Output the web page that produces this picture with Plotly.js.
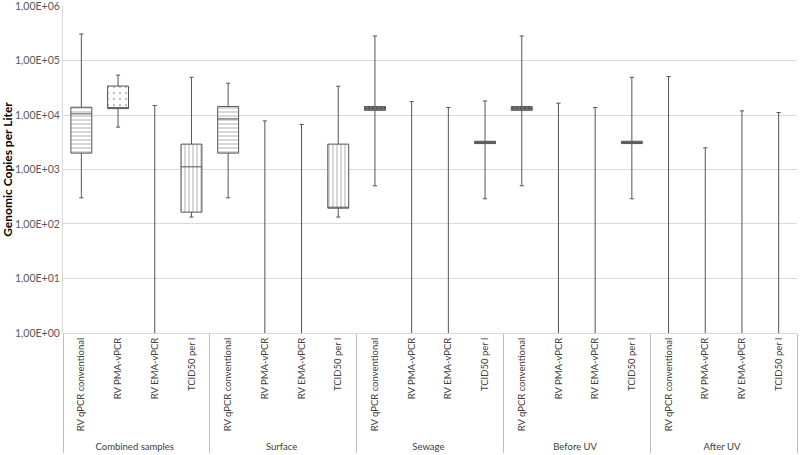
<!DOCTYPE html>
<html>
<head>
<meta charset="utf-8">
<script src="https://cdn.plot.ly/plotly-3.0.1.min.js"></script>
<style>html,body{margin:0;padding:0;background:#fff;}#chart{width:800px;height:455px;}</style>
</head>
<body>
<div id="chart"></div>
<script>
const groups = ["Combined samples","Surface","Sewage","Before UV","After UV"];
const methods = ["RV qPCR conventional","RV PMA-vPCR","RV EMA-vPCR","TCID50 per l"];

// per-category statistics (20 categories, group-major order); 0.1 = below axis (no value)
const upperFence = [307000, 54000, 14900, 49300,   38300, 7800, 6700, 33700,   282000, 17600, 13700, 18100,   282000, 16500, 13700, 49300,   50700, 2500, 11900, 11100];
const q3Values   = [13900, 34000, 0.1, 2920,       14300, 0.1, 0.1, 2920,      14300, 0.1, 0.1, 3300,       14300, 0.1, 0.1, 3300,       0.1, 0.1, 0.1, 0.1];
const medians    = [10500, 13100, 0.1, 1120,       8500, 0.1, 0.1, 195,        13000, 0.1, 0.1, 3150,       13000, 0.1, 0.1, 3150,       0.1, 0.1, 0.1, 0.1];
const q1Values   = [2000, 13100, 0.1, 165,         2000, 0.1, 0.1, 195,        12200, 0.1, 0.1, 2990,       12200, 0.1, 0.1, 2990,       0.1, 0.1, 0.1, 0.1];
const lowerFence = [302, 6000, 0.1, 134,           302, 0.1, 0.1, 134,         502, 0.1, 0.1, 290,          502, 0.1, 0.1, 290,          0.1, 0.1, 0.1, 0.1];

const yTickVals = [1, 10, 100, 1000, 10000, 100000, 1000000];
const yTickText = ["1,00E+00","1,00E+01","1,00E+02","1,00E+03","1,00E+04","1,00E+05","1,00E+06"];

const patternByMethod = {"RV qPCR conventional":"-","RV PMA-vPCR":".","RV EMA-vPCR":"","TCID50 per l":"|"};
const patternSize = {"RV qPCR conventional":4,"RV PMA-vPCR":6,"RV EMA-vPCR":4,"TCID50 per l":4};
const patternSolidity = {"RV qPCR conventional":0.3,"RV PMA-vPCR":0.12,"RV EMA-vPCR":0.2,"TCID50 per l":0.3};

const xGroups = [], xCats = [];
groups.forEach(g => methods.forEach(m => { xGroups.push(g); xCats.push(m); }));
const xPos = xCats.map((_, i) => i);

const hasBox = q3Values.map((v,i) => v > 1 && q1Values[i] > 1);
const thin = q3Values.map((v,i) => hasBox[i] && v / q1Values[i] < 1.3);

// invisible trace that defines the two-level category axis
const labelTrace = {
  type: 'scatter', mode: 'markers',
  x: [xGroups, xCats], y: upperFence,
  marker: {opacity: 0}, hoverinfo: 'skip', showlegend: false
};

const barTrace = {
  type: 'bar',
  xaxis: 'x2',
  x: xPos,
  base: q1Values.map((v,i) => hasBox[i] ? v : null),
  y: q3Values.map((v,i) => hasBox[i] ? v - q1Values[i] : null),
  width: 0.57,
  marker: {
    color: 'white',
    line: {width: 0},
    pattern: {
      shape: xCats.map((m,i) => thin[i] ? '.' : patternByMethod[m]),
      fgcolor: xCats.map((m,i) => thin[i] ? '#333333' : '#7a7a7a'),
      bgcolor: xCats.map((m,i) => thin[i] ? '#8c8c8c' : '#ffffff'),
      size: xCats.map((m,i) => thin[i] ? 4 : patternSize[m]),
      solidity: xCats.map((m,i) => thin[i] ? 0.4 : patternSolidity[m]),
      fillmode: 'overlay'
    }
  },
  hoverinfo: 'skip',
  showlegend: false
};

const boxTrace = {
  type: 'box',
  xaxis: 'x2',
  x: xPos,
  q1: q1Values,
  median: medians,
  q3: q3Values,
  lowerfence: lowerFence,
  upperfence: upperFence,
  width: 0.57,
  whiskerwidth: 0.2,
  fillcolor: 'rgba(0,0,0,0)',
  line: {color: '#555555', width: 1},
  boxpoints: false,
  showlegend: false
};

const layout = {
  width: 800,
  height: 455,
  margin: {l: 63, r: 3, t: 6, b: 122},
  paper_bgcolor: '#ffffff',
  plot_bgcolor: '#ffffff',
  barmode: 'overlay',
  showlegend: false,
  font: {family: 'Lato, "Open Sans", sans-serif', size: 10, color: '#404040'},
  xaxis: {
    type: 'multicategory',
    range: [-0.5, 19.5],
    tickangle: -90,
    ticks: '',
    showgrid: false,
    showline: true,
    linecolor: '#d9d9d9',
    showdividers: true,
    dividercolor: '#bfbfbf',
    dividerwidth: 1,
    tickfont: {size: 9.5, color: '#404040'}
  },
  xaxis2: {
    type: 'linear',
    overlaying: 'x',
    range: [-0.5, 19.5],
    visible: false
  },
  yaxis: {
    type: 'log',
    range: [-0.0005, 6.0005],
    tickvals: yTickVals,
    ticktext: yTickText,
    ticks: '',
    ticklabeloverflow: 'allow',
    showgrid: true,
    gridcolor: '#d9d9d9',
    gridwidth: 1,
    showline: true,
    linecolor: '#d9d9d9',
    zeroline: false,
    tickfont: {size: 10.5, color: '#595959'},
    title: {text: '<b>Genomic Copies per Liter</b>', font: {size: 12, color: '#000000'}, standoff: 8}
  }
};

Plotly.newPlot('chart', [labelTrace, barTrace, boxTrace], layout, {staticPlot: true, displayModeBar: false});
</script>
</body>
</html>
